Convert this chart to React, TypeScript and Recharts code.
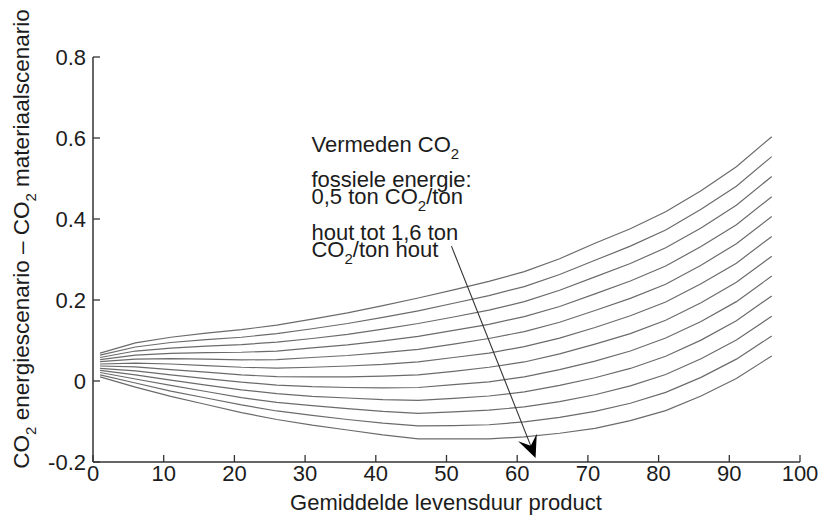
import React from "react";
import { LineChart, Line, XAxis, YAxis, ReferenceLine, Label } from "recharts";

// Average product lifetime (years) at which the model was evaluated
const lifetimes = [1, 6, 11, 16, 21, 26, 31, 36, 41, 46, 51, 56, 61, 66, 71, 76, 81, 86, 91, 96];

// Difference CO2 energy scenario - CO2 material scenario, one curve per
// amount of avoided fossil CO2 (ton CO2 per ton of wood)
const avoided05 = [0.069, 0.094, 0.108, 0.118, 0.127, 0.138, 0.153, 0.168, 0.186, 0.205, 0.225, 0.246, 0.270, 0.302, 0.340, 0.376, 0.418, 0.470, 0.529, 0.603];
const avoided06 = [0.064, 0.084, 0.095, 0.102, 0.108, 0.117, 0.129, 0.142, 0.157, 0.173, 0.192, 0.211, 0.233, 0.263, 0.298, 0.333, 0.373, 0.424, 0.481, 0.554];
const avoided07 = [0.058, 0.074, 0.081, 0.086, 0.090, 0.096, 0.105, 0.115, 0.128, 0.142, 0.158, 0.175, 0.196, 0.224, 0.257, 0.290, 0.329, 0.378, 0.434, 0.505];
const avoided08 = [0.053, 0.064, 0.068, 0.070, 0.071, 0.074, 0.082, 0.089, 0.099, 0.110, 0.125, 0.140, 0.159, 0.184, 0.215, 0.247, 0.284, 0.332, 0.386, 0.455];
const avoided09 = [0.048, 0.054, 0.055, 0.054, 0.052, 0.053, 0.058, 0.063, 0.070, 0.078, 0.091, 0.105, 0.122, 0.145, 0.174, 0.204, 0.239, 0.286, 0.339, 0.406];
const avoided10 = [0.042, 0.044, 0.042, 0.038, 0.034, 0.032, 0.034, 0.037, 0.041, 0.047, 0.058, 0.069, 0.085, 0.106, 0.132, 0.161, 0.195, 0.240, 0.291, 0.357];
const avoided11 = [0.037, 0.035, 0.028, 0.022, 0.015, 0.011, 0.010, 0.010, 0.012, 0.015, 0.024, 0.034, 0.047, 0.067, 0.091, 0.117, 0.150, 0.193, 0.244, 0.308];
const avoided12 = [0.031, 0.025, 0.015, 0.006, -0.003, -0.010, -0.014, -0.016, -0.017, -0.016, -0.009, -0.002, 0.010, 0.028, 0.049, 0.074, 0.106, 0.147, 0.196, 0.259];
const avoided13 = [0.026, 0.015, 0.002, -0.010, -0.022, -0.031, -0.038, -0.042, -0.046, -0.048, -0.043, -0.037, -0.027, -0.011, 0.008, 0.031, 0.061, 0.101, 0.149, 0.210];
const avoided14 = [0.021, 0.005, -0.011, -0.026, -0.041, -0.053, -0.061, -0.068, -0.075, -0.080, -0.076, -0.072, -0.064, -0.051, -0.034, -0.012, 0.016, 0.055, 0.101, 0.160];
const avoided15 = [0.015, -0.005, -0.025, -0.042, -0.059, -0.074, -0.085, -0.095, -0.104, -0.111, -0.110, -0.108, -0.101, -0.090, -0.075, -0.055, -0.028, 0.009, 0.054, 0.111];
const avoided16 = [0.010, -0.015, -0.038, -0.058, -0.078, -0.095, -0.109, -0.121, -0.133, -0.143, -0.143, -0.143, -0.138, -0.129, -0.117, -0.098, -0.073, -0.037, 0.006, 0.062];

const xTicks = [0, 10, 20, 30, 40, 50, 60, 70, 80, 90, 100];
const yTicks = [-0.2, 0, 0.2, 0.4, 0.6, 0.8];

// Arrow drawn across the curve family, from the note down to the lowest curve
const arrowFrom = { x: 50.7, y: 0.333 };
const arrowTo = { x: 62.6, y: -0.19 };

const curves = [
  { key: "t05", values: avoided05 },
  { key: "t06", values: avoided06 },
  { key: "t07", values: avoided07 },
  { key: "t08", values: avoided08 },
  { key: "t09", values: avoided09 },
  { key: "t10", values: avoided10 },
  { key: "t11", values: avoided11 },
  { key: "t12", values: avoided12 },
  { key: "t13", values: avoided13 },
  { key: "t14", values: avoided14 },
  { key: "t15", values: avoided15 },
  { key: "t16", values: avoided16 },
];

const data = lifetimes.map((lifetime, i) => {
  const row: Record<string, number> = { lifetime };
  curves.forEach((c) => {
    row[c.key] = c.values[i];
  });
  return row;
});

const FONT = "'Liberation Sans', Arial, Helvetica, sans-serif";
const TEXT = "#1c1c1c";
const AXIS = "#333333";
const CURVE = "#6b6b6b";
const TICK_LEN = 7;
const SUB_SHIFT = 7;

const fmtY = (v: number) => (v === 0 ? "0" : v.toFixed(1));

const YTick = (props: any) => {
  const { x, y, payload } = props;
  return (
    <g>
      <line x1={x} x2={x + TICK_LEN} y1={y} y2={y} stroke={AXIS} strokeWidth={1.3} />
      <text x={x - 7} y={y + 8} textAnchor="end" fontFamily={FONT} fontSize={22} fill={TEXT}>
        {fmtY(payload.value)}
      </text>
    </g>
  );
};

const XTick = (props: any) => {
  const { x, y, payload } = props;
  return (
    <g>
      <line x1={x} x2={x} y1={y} y2={y - TICK_LEN} stroke={AXIS} strokeWidth={1.3} />
      <text x={x} y={y + 18.5} textAnchor="middle" fontFamily={FONT} fontSize={22} fill={TEXT}>
        {payload.value}
      </text>
    </g>
  );
};

// Renders "CO" followed by a subscript 2, then optional trailing text on the baseline
const co2Spans = (before: string, after: string) => [
  <tspan key="a">{before}CO</tspan>,
  <tspan key="s" dy={SUB_SHIFT} fontSize={15}>2</tspan>,
  after ? (
    <tspan key="b" dy={-SUB_SHIFT}>
      {after}
    </tspan>
  ) : null,
];

const YTitle = () => (
  <text
    transform="translate(29, 239) rotate(-90)"
    textAnchor="middle"
    fontFamily={FONT}
    fontSize={22.5}
    fill={TEXT}
  >
    <tspan>CO</tspan>
    <tspan dy={SUB_SHIFT} fontSize={15}>2</tspan>
    <tspan dy={-SUB_SHIFT}> energiescenario – CO</tspan>
    <tspan dy={SUB_SHIFT} fontSize={15}>2</tspan>
    <tspan dy={-SUB_SHIFT}> materiaalscenario</tspan>
  </text>
);

const XTitle = () => (
  <text x={446} y={510} textAnchor="middle" fontFamily={FONT} fontSize={22} fill={TEXT}>
    Gemiddelde levensduur product
  </text>
);

// Arrow with a filled, notched head plus the explanatory note above its tail
const AnnotatedArrow = (props: any) => {
  const { x1, y1, x2, y2 } = props;
  const dx = x2 - x1;
  const dy = y2 - y1;
  const len = Math.sqrt(dx * dx + dy * dy);
  const ux = dx / len;
  const uy = dy / len;
  const px = -uy;
  const py = ux;
  const headLen = 22;
  const headHalf = 10;
  const notch = 13;
  const bx = x2 - ux * headLen;
  const by = y2 - uy * headLen;
  const nx = x2 - ux * notch;
  const ny = y2 - uy * notch;
  const head = [
    `${x2},${y2}`,
    `${bx + px * headHalf},${by + py * headHalf}`,
    `${nx},${ny}`,
    `${bx - px * headHalf},${by - py * headHalf}`,
  ].join(" ");
  const tx = x1 - 140;
  const ty = y1;
  const textProps = { fontFamily: FONT, fontSize: 22, fill: TEXT };
  return (
    <g>
      <line x1={x1} y1={y1} x2={nx} y2={ny} stroke="#333" strokeWidth={1.1} />
      <polygon points={head} fill="#000" />
      <text x={tx} y={ty - 94.3} {...textProps}>
        {co2Spans("Vermeden ", "")}
      </text>
      <text x={tx} y={ty - 59.5} {...textProps}>fossiele energie:</text>
      <text x={tx} y={ty - 42} {...textProps}>
        {co2Spans("0,5 ton ", "/ton")}
      </text>
      <text x={tx} y={ty - 6} {...textProps}>hout tot 1,6 ton</text>
      <text x={tx} y={ty + 11} {...textProps}>
        {co2Spans("", "/ton hout")}
      </text>
    </g>
  );
};

export default function App() {
  return (
    <div style={{ position: "absolute", left: 0, top: 0, width: 827, height: 521, background: "#fff" }}>
      <LineChart
        width={827}
        height={521}
        data={data}
        margin={{ top: 57, right: 27, bottom: 29, left: 33 }}
      >
        <XAxis
          type="number"
          dataKey="lifetime"
          domain={[0, 100]}
          ticks={xTicks}
          interval={0}
          height={30}
          tickSize={0}
          tickMargin={0}
          tickLine={false}
          axisLine={{ stroke: AXIS, strokeWidth: 1.5 }}
          tick={<XTick />}
        >
          <Label content={<XTitle />} />
        </XAxis>
        <YAxis
          type="number"
          domain={[-0.2, 0.8]}
          ticks={yTicks}
          interval={0}
          width={60}
          tickSize={0}
          tickMargin={0}
          tickLine={false}
          axisLine={{ stroke: AXIS, strokeWidth: 1.5 }}
          tick={<YTick />}
          allowDataOverflow
        >
          <Label content={<YTitle />} />
        </YAxis>
        {curves.map((c) => (
          <Line
            key={c.key}
            type="linear"
            dataKey={c.key}
            stroke={CURVE}
            strokeWidth={1.2}
            dot={false}
            activeDot={false}
            isAnimationActive={false}
          />
        ))}
        <ReferenceLine
          segment={[arrowFrom, arrowTo]}
          ifOverflow="visible"
          shape={(p: any) => <AnnotatedArrow {...p} />}
        />
      </LineChart>
    </div>
  );
}
